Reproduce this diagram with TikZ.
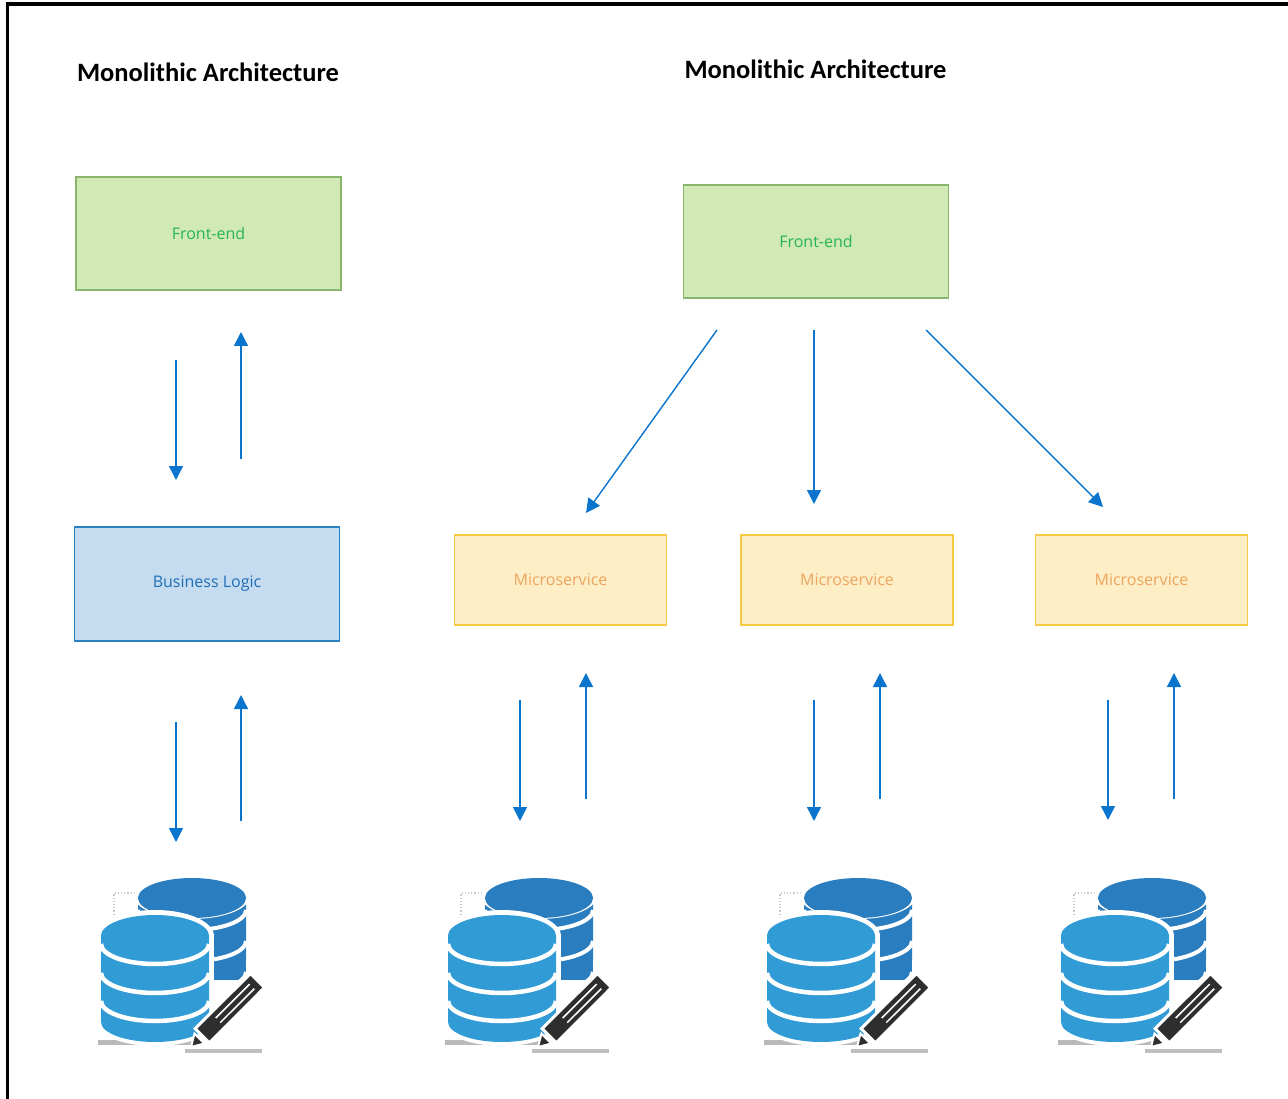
\documentclass[tikz,border=0pt]{standalone}
\usepackage{fontspec}
\setmainfont{Open Sans}
\newfontfamily\titlefont{Carlito}
\usetikzlibrary{arrows.meta}
\definecolor{arrowblue}{HTML}{0B74CC}
\definecolor{dbfront}{HTML}{319BD5}
\definecolor{dbback}{HTML}{2A7DBF}
\definecolor{pencolor}{HTML}{2E2E2E}
\tikzset{
  x=1pt,y=-1pt,
  titletext/.style={font=\titlefont\bfseries\fontsize{26.5}{30}\selectfont,text=black,inner sep=0pt},
  box/.style={draw,line width=1.2pt,inner sep=0pt,font=\fontsize{16}{19}\selectfont},
  greenbox/.style={box,fill=green!0!white,fill={rgb,255:red,208;green,233;blue,181},draw={rgb,255:red,138;green,181;blue,108},text={rgb,255:red,40;green,180;blue,80},minimum width=265pt,minimum height=113pt},
  bluebox/.style={box,fill={rgb,255:red,197;green,220;blue,240},draw={rgb,255:red,43;green,128;blue,191},text={rgb,255:red,31;green,111;blue,181},minimum width=265pt,minimum height=114pt},
  yellowbox/.style={box,fill={rgb,255:red,253;green,238;blue,198},draw={rgb,255:red,246;green,201;blue,69},text={rgb,255:red,237;green,165;blue,95},minimum width=212pt,minimum height=90pt},
  flow/.style={draw=arrowblue,line width=1.4pt,-{Triangle[length=14pt,width=14pt]}},
  pics/dbicon/.style={code={
    % dotted corner
    \draw[gray!45,line width=1.2pt,dotted] (135,893) -- (114,893) -- (114,918);
    % shadows
    \fill[gray!55] (98,1040) -- (195,1040) -- (195,1045) -- (98,1045) -- cycle;
    \fill[gray!50] (185,1049) -- (262,1049) -- (262,1053) -- (185,1053) -- cycle;
    % back cylinder
    \fill[dbback] (138,898) -- (138,980) -- (246,980) -- (246,898) -- cycle;
    \fill[white] (138,930) -- (138,1000) -- (190,1000) -- (190,930) -- cycle;
    \fill[dbback] (138,985) -- (246,960) -- (246,898) -- (190,898) -- cycle;
    \foreach \yy in {910,941,972}
      \draw[white,line width=4pt] (138,\yy) arc[start angle=180,end angle=360,x radius=54pt,y radius=20pt];
    \fill[white] (192,896) circle[x radius=58pt,y radius=23pt];
    \fill[dbback] (192,898) circle[x radius=54pt,y radius=20pt];
    % front cylinder halo
    \fill[white] (96,936) -- (214,936) -- (214,1022) -- (96,1022) -- cycle;
    \fill[white] (155,1022) circle[x radius=59pt,y radius=24pt];
    \fill[white] (155,936) circle[x radius=59pt,y radius=26pt];
    % front cylinder
    \fill[dbfront] (101,936) -- (101,1022) arc[start angle=180,end angle=360,x radius=54pt,y radius=20pt] -- (209,936) -- cycle;
    \fill[dbfront] (155,936) circle[x radius=54pt,y radius=21pt];
    \foreach \yy in {944,973,1001}
      \draw[white,line width=4.5pt] (101,\yy) arc[start angle=180,end angle=360,x radius=54pt,y radius=20pt];
    \fill[dbfront] (155,936) circle[x radius=54pt,y radius=20pt];
    % pencil
    \fill[pencolor,draw=white,line width=3pt,line join=miter] (209.4,1042.8) -- (264.5,987.6) -- (250.4,973.5) -- (195.2,1028.6) -- cycle;
    \fill[pencolor,draw=white,line width=2pt,line join=miter] (191,1047) -- (204.4,1043.5) -- (194.5,1033.6) -- cycle;
    \draw[white,line width=1.5pt] (220.3,1022.6) -- (254.3,988.7);
    \draw[white,line width=1.5pt] (215.7,1018) -- (249.7,984.1);
  }}
}
\newcommand{\flowarrow}[4]{%
  \coordinate (#1s) at #3; \coordinate (#1e) at #4;
  \draw[flow] (#1s) -- (#1e);}
\begin{document}
\begin{tikzpicture}
\useasboundingbox (0,0) rectangle (1288,1099);
\fill[white] (0,0) rectangle (1288,1099);
\coordinate (fa) at (7.5,1099);
\coordinate (fb) at (7.5,4);
\coordinate (fc) at (1288,4);
\draw[black,line width=3.5pt,line join=miter] (fa) -- (fb) -- (fc);

\node[titletext] (t1) at (208,72) {Monolithic Architecture};
\node[titletext] (t2) at (815.5,69) {Monolithic Architecture};

\node[greenbox] (fe1) at (208.5,233.5) {Front-end};
\node[greenbox] (fe2) at (816,241.5) {Front-end};
\node[bluebox] (bl) at (207,584) {Business Logic};
\node[yellowbox] (m1) at (560.5,580) {Microservice};
\node[yellowbox] (m2) at (847,580) {Microservice};
\node[yellowbox] (m3) at (1141.5,580) {Microservice};

\flowarrow{a}{}{(176,360)}{(176,480)}
\flowarrow{b}{}{(241,459)}{(241,332)}
\flowarrow{c}{}{(176,722)}{(176,842)}
\flowarrow{d}{}{(241,821)}{(241,695)}
\flowarrow{e}{}{(717,330)}{(586,513)}
\flowarrow{f}{}{(814,330)}{(814,504)}
\flowarrow{g}{}{(926,330)}{(1103,507)}
\flowarrow{h}{}{(520,700)}{(520,821)}
\flowarrow{i}{}{(586,799)}{(586,673)}
\flowarrow{j}{}{(814,700)}{(814,821)}
\flowarrow{k}{}{(880,799)}{(880,673)}
\flowarrow{l}{}{(1108,700)}{(1108,820)}
\flowarrow{m}{}{(1174,799)}{(1174,673)}

\pic at (0,0) {dbicon};
\pic at (347,0) {dbicon};
\pic at (666,0) {dbicon};
\pic at (960,0) {dbicon};
\end{tikzpicture}
\end{document}
